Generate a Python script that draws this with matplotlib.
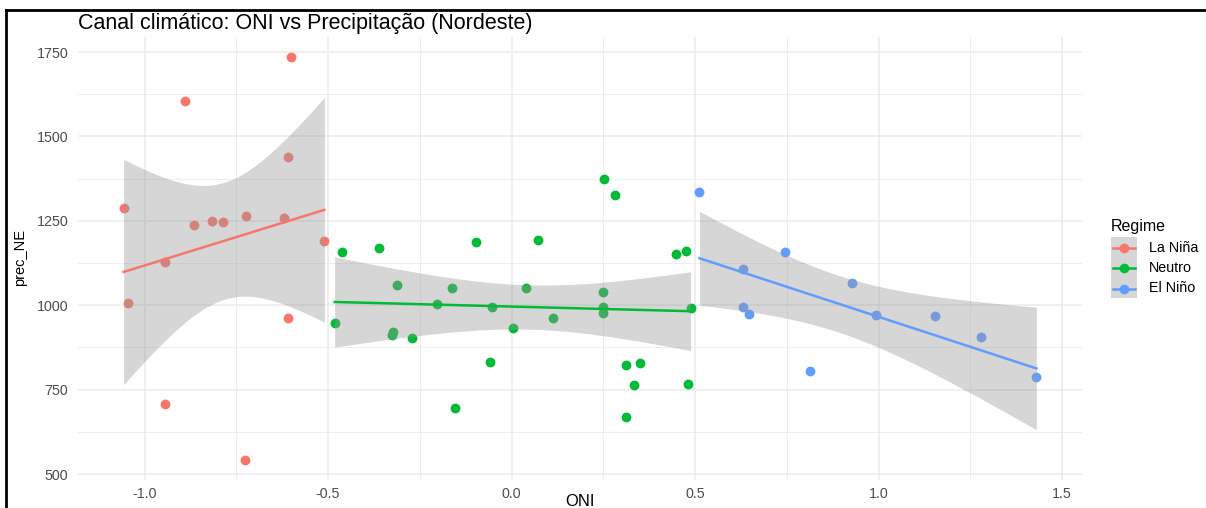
import numpy as np
import matplotlib
matplotlib.use("Agg")
import matplotlib.pyplot as plt
from matplotlib.lines import Line2D
from matplotlib.patches import Rectangle

plt.rcParams['font.family'] = ['Liberation Sans', 'DejaVu Sans']

# ---- data ----
regimes = ["La Niña", "Neutro", "El Niño"]
colors = ["#F8766D", "#00BA38", "#619CFF"]

oni_lanina = [-1.057, -1.046, -0.943, -0.943, -0.891, -0.864, -0.816, -0.785,
              -0.723, -0.727, -0.621, -0.602, -0.608, -0.610, -0.510]
prec_lanina = [1289, 1006, 1128, 708, 1604, 1238, 1250, 1247,
               1265, 542, 1259, 1735, 1440, 961, 1190]

oni_neutro = [-0.482, -0.463, -0.362, -0.324, -0.327, -0.311, -0.272, -0.204,
              -0.163, -0.153, -0.098, -0.060, -0.052, 0.004, 0.040, 0.071,
              0.114, 0.250, 0.250, 0.250, 0.253, 0.281, 0.311, 0.313, 0.333,
              0.349, 0.447, 0.474, 0.480, 0.488]
prec_neutro = [946, 1158, 1170, 920, 911, 1060, 902, 1003,
               1051, 696, 1188, 833, 994, 934, 1051, 1193,
               961, 1039, 994, 976, 1375, 1327, 670, 824, 765,
               830, 1152, 1161, 768, 991]

oni_elnino = [0.512, 0.630, 0.630, 0.646, 0.746, 0.812, 0.929, 0.992,
              1.153, 1.278, 1.430]
prec_elnino = [1336, 1107, 994, 973, 1158, 804, 1065, 970,
               967, 905, 786]

x_ticks = [-1.0, -0.5, 0.0, 0.5, 1.0, 1.5]
y_ticks = [500, 750, 1000, 1250, 1500, 1750]

series = [(oni_lanina, prec_lanina), (oni_neutro, prec_neutro), (oni_elnino, prec_elnino)]

# t quantiles (0.975) for df = n-2
T975 = {9: 2.262, 13: 2.160, 28: 2.048}

W, H = 1206, 508
fig = plt.figure(figsize=(W / 100, H / 100), dpi=100)
ax = fig.add_axes([78 / W, 1 - 480 / H, (1082 - 78) / W, (480 - 37) / H])
ax.set_facecolor("white")

# points first
for (xs, ys), c in zip(series, colors):
    ax.scatter(xs, ys, s=50, color=c, linewidths=0, zorder=2)

# smooth lm with 95% CI
for (xs, ys), c in zip(series, colors):
    x = np.asarray(xs, float)
    y = np.asarray(ys, float)
    n = len(x)
    b1, b0 = np.polyfit(x, y, 1)
    resid = y - (b0 + b1 * x)
    s = np.sqrt(np.sum(resid ** 2) / (n - 2))
    xbar = x.mean()
    sxx = np.sum((x - xbar) ** 2)
    xg = np.linspace(x.min(), x.max(), 80)
    yg = b0 + b1 * xg
    se = s * np.sqrt(1 / n + (xg - xbar) ** 2 / sxx)
    t = T975[n - 2]
    ax.fill_between(xg, yg - t * se, yg + t * se, color="#999999", alpha=0.4,
                    linewidth=0, zorder=3)
    ax.plot(xg, yg, color=c, lw=1.8, zorder=4)

# limits like ggplot (5% expansion)
allx = np.concatenate([np.asarray(s[0]) for s in series])
ally = np.concatenate([np.asarray(s[1]) for s in series])
xr = allx.max() - allx.min()
yr = ally.max() - ally.min()
ax.set_xlim(allx.min() - 0.05 * xr, allx.max() + 0.05 * xr)
ax.set_ylim(ally.min() - 0.05 * yr, ally.max() + 0.05 * yr)

ax.set_xticks(x_ticks)
ax.set_xticklabels([f"{v:.1f}" for v in x_ticks])
ax.set_yticks(y_ticks)
ax.set_yticklabels([str(v) for v in y_ticks])
ax.set_xticks([-0.75, -0.25, 0.25, 0.75, 1.25], minor=True)
ax.set_yticks([625, 875, 1125, 1375, 1625], minor=True)
ax.grid(True, which="major", color="#ebebeb", lw=1.1, zorder=0)
ax.grid(True, which="minor", color="#ebebeb", lw=0.6, zorder=0)
ax.set_axisbelow(True)
for sp in ax.spines.values():
    sp.set_visible(False)
ax.tick_params(which="both", length=0)
ax.tick_params(axis="both", labelsize=10.3, labelcolor="#4d4d4d")
ax.tick_params(axis="x", pad=5)
ax.tick_params(axis="y", pad=7)

fig.text(580 / W, 1 - 502 / H, "ONI", ha="center", va="center", fontsize=12, color="black")
fig.text(20 / W, 1 - 258 / H, "prec_NE", ha="center", va="center", rotation=90,
         fontsize=10.5, color="black")
fig.text(78 / W, 1 - 24 / H, "Canal climático: ONI vs Precipitação (Nordeste)",
         ha="left", va="center", fontsize=15.5, color="black")

# legend (manual, ggplot-style)
fig.text(1111 / W, 1 - 226 / H, "Regime", ha="left", va="center", fontsize=11.5, color="black")
fig.add_artist(Rectangle((1111 / W, 1 - 298 / H), 26 / W, 61 / H,
                         transform=fig.transFigure, facecolor="#d6d6d6",
                         edgecolor="none"))
for i, (lab, c) in enumerate(zip(regimes, colors)):
    yc = 1 - (247.5 + 20.5 * i) / H
    fig.add_artist(Line2D([1113 / W, 1135 / W], [yc, yc], transform=fig.transFigure,
                          color=c, lw=1.8))
    fig.add_artist(Line2D([1124 / W], [yc], transform=fig.transFigure, marker="o",
                          markersize=7, color=c, markeredgewidth=0))
    fig.text(1149 / W, yc, lab, ha="left", va="center", fontsize=10.3, color="black")

# frame lines from the screenshot
fig.add_artist(Line2D([6 / W, 1], [1 - 10 / H, 1 - 10 / H], transform=fig.transFigure,
                      color="black", lw=2))
fig.add_artist(Line2D([6 / W, 6 / W], [0, 1 - 10 / H], transform=fig.transFigure,
                      color="black", lw=2))

fig.savefig("out.png", dpi=100)
